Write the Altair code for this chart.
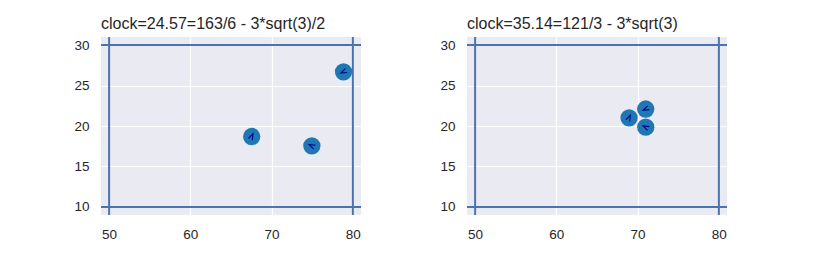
import altair as alt
import pandas as pd

titles = ["clock=24.57=163/6 - 3*sqrt(3)/2", "clock=35.14=121/3 - 3*sqrt(3)"]
x_left = [67.55, 74.95, 78.85]
y_left = [18.7, 17.55, 26.7]
ang_left = [115, 25, 335]
x_right = [68.95, 71.0, 71.0]
y_right = [21.0, 22.1, 19.85]
ang_right = [115, 335, 25]
vlines = [50, 80]
hlines = [10, 30]
x_ticks = [50, 60, 70, 80]
y_ticks = [10, 15, 20, 25, 30]

CHEV = "M1,-0.7 L-1,0 L1,0.7"
LINE_C = "#4C72B0"
PT_C = "#1f77b4"
ARR_C = "#00008b"


def panel(title, xs, ys, angs):
    df = pd.DataFrame({"x": xs, "y": ys, "a": angs})
    xsc = alt.Scale(domain=[49, 81], nice=False, zero=False)
    ysc = alt.Scale(domain=[9, 31], nice=False, zero=False)
    xax = alt.Axis(values=x_ticks, title=None)
    yax = alt.Axis(values=y_ticks, title=None)
    v = alt.Chart(pd.DataFrame({"v": vlines})).mark_rule(
        color=LINE_C, strokeWidth=2
    ).encode(x=alt.X("v:Q", scale=xsc, axis=xax))
    h = alt.Chart(pd.DataFrame({"h": hlines})).mark_rule(
        color=LINE_C, strokeWidth=2
    ).encode(y=alt.Y("h:Q", scale=ysc, axis=yax))
    X = alt.X("x:Q", scale=xsc, axis=xax)
    Y = alt.Y("y:Q", scale=ysc, axis=yax)
    pts = alt.Chart(df).mark_circle(size=300, opacity=1, color=PT_C).encode(x=X, y=Y)
    arr = alt.Chart(df).mark_point(
        shape=CHEV, size=36, filled=False, stroke=ARR_C, strokeWidth=1.1, opacity=1
    ).encode(x=X, y=Y, angle=alt.Angle("a:Q", scale=None))
    return alt.layer(v, h, pts, arr).properties(
        width=260, height=178,
        title=alt.TitleParams(title, anchor="start", frame="group"),
    )


chart = alt.hconcat(
    panel(titles[0], x_left, y_left, ang_left),
    panel(titles[1], x_right, y_right, ang_right),
    spacing=77,
).properties(
    padding={"left": 73, "top": 16, "right": 0, "bottom": 0},
    background="white",
).configure_view(
    fill="#EAEAF2", stroke=None
).configure_axis(
    grid=True, gridColor="white", gridWidth=1.2, domain=False, ticks=False,
    labelFont="Liberation Sans", labelFontSize=13.5, labelColor="#262626",
    labelPadding=12,
).configure_title(
    font="Liberation Sans", fontSize=16, fontWeight="normal", color="#262626",
    offset=4,
)

chart.save("out.html", embed_options={"renderer": "svg", "actions": False})
